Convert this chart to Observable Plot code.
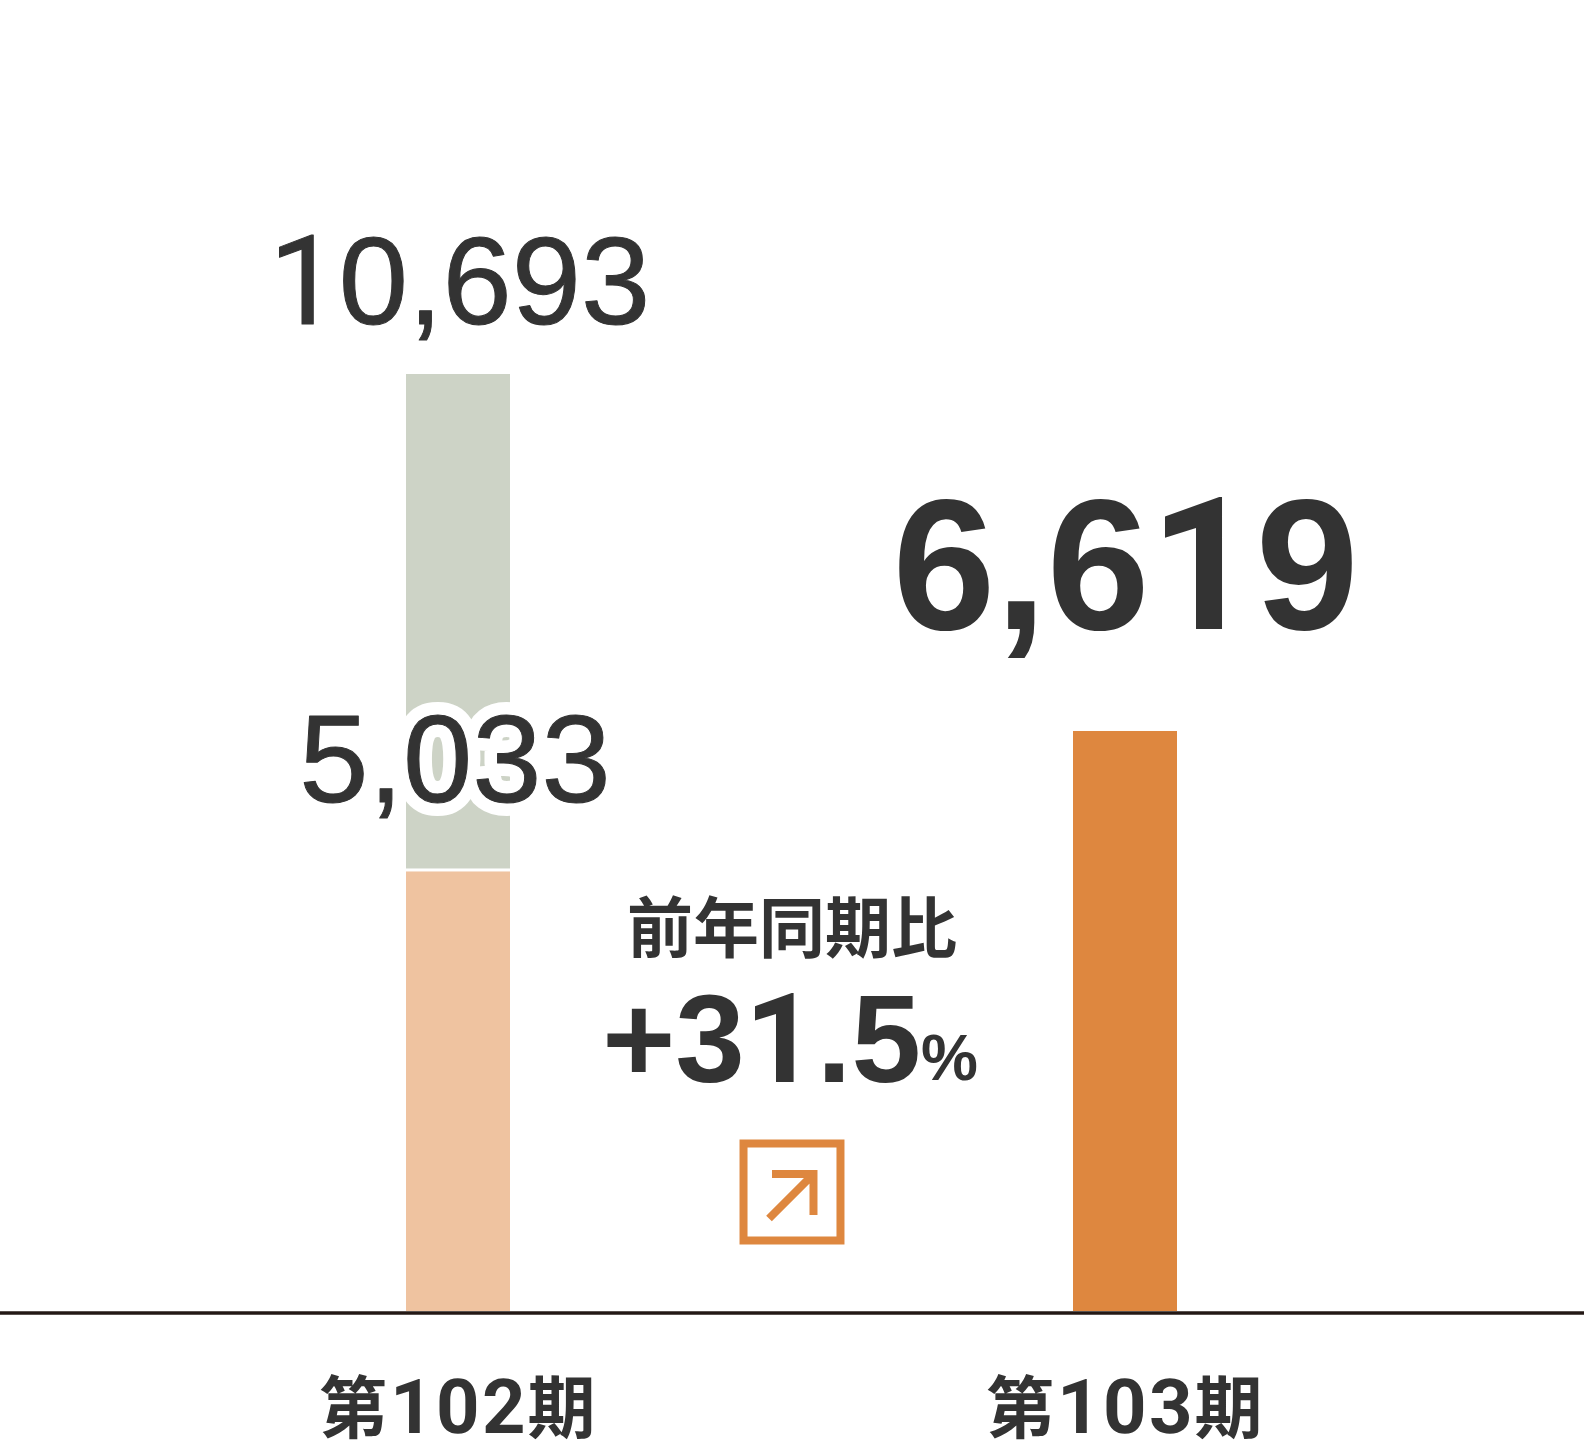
<!DOCTYPE html>
<html lang="ja">
<head>
<meta charset="utf-8">
<script src="https://cdn.jsdelivr.net/npm/d3@7"></script>
<script src="https://cdn.jsdelivr.net/npm/@observablehq/plot@0.6"></script>
<style>
@font-face{font-family:"AxisDigits";src:local("Roboto Medium"),local("Roboto-Medium");font-weight:700;unicode-range:U+30-39;size-adjust:112%}
@font-face{font-family:"PlainOne";src:local("Roboto"),local("Roboto Regular"),local("Roboto-Regular");font-weight:400;unicode-range:U+31}
@font-face{font-family:"PlainOne";src:local("Roboto Bold"),local("Roboto-Bold");font-weight:700;unicode-range:U+31}
html,body{margin:0;padding:0;background:#fff}
svg{display:block}
svg [aria-label="x-axis tick label"]{letter-spacing:2px}
</style>
</head>
<body>
<script>
const periods = ["第102期", "前年同期比", "第103期"];
const axisPeriods = ["第102期", "第103期"];
const lowerSegment = [{period: "第102期", from: 0, to: 5033}];
const upperSegment = [{period: "第102期", from: 5033, to: 10693}];
const currentBar = [{period: "第103期", from: 0, to: 6619}];
const prevTotal = [{period: "第102期", value: 10693}];
const prevPart = [{period: "第102期", value: 5033}];
const curTotal = [{period: "第103期", value: 6619}];
const changeLabel = "前年同期比";
const changeValue = "+31.5";
const changeUnit = "%";

const font = '"PlainOne","Liberation Sans","Noto Sans CJK JP",sans-serif';
const ink = "#333333";
const fmt = d3.format(",");

const arrowBox = {
  draw(c, size) {
    const s = Math.sqrt(size);
    const h = s / 2;
    c.moveTo(-h, -h); c.lineTo(h, -h); c.lineTo(h, h); c.lineTo(-h, h); c.closePath();
    const k = s / 97;
    c.moveTo(-20 * k, -18 * k); c.lineTo(21.5 * k, -18 * k); c.lineTo(21.5 * k, 23 * k);
    c.moveTo(21.5 * k, -18 * k); c.lineTo(-23 * k, 26.5 * k);
  }
};

const chart = Plot.plot({
  width: 1584,
  height: 1446,
  marginLeft: 0, marginRight: 0, marginTop: 0, marginBottom: 135,
  style: {background: "#fff", fontFamily: font},
  x: {type: "band", domain: periods, range: [406, 1177], round: false, paddingInner: 1 - 104 / 333.5, paddingOuter: 0, axis: null},
  y: {domain: [0, 10693], range: [1311, 374], axis: null},
  marks: [
    Plot.barY(lowerSegment, {x: "period", y1: "from", y2: "to", fill: "#efc3a0", insetTop: 1.5}),
    Plot.barY(upperSegment, {x: "period", y1: "from", y2: "to", fill: "#cdd3c6", insetBottom: 1.5}),
    Plot.barY(currentBar, {x: "period", y1: "from", y2: "to", fill: "#de873f"}),
    Plot.ruleY([0], {stroke: "#231815", strokeWidth: 3.5, dy: 1.5}),
    Plot.axisX({
      ticks: axisPeriods, tickSize: 0, tickPadding: 0, label: null,
      fontSize: 68, fontWeight: 700, fontFamily: '"AxisDigits","Noto Sans CJK JP",sans-serif', fill: ink, dy: 73
    }),
    Plot.text(prevTotal, {x: "period", y: "value", text: d => fmt(d.value),
      fontSize: 124.5, fill: ink, stroke: ink, strokeWidth: 1, dx: 1, dy: -90, lineAnchor: "middle"}),
    Plot.text(prevPart, {x: "period", y: "value", text: d => fmt(d.value),
      fontSize: 124.5, fill: "#fff", stroke: "#fff", strokeWidth: 26, dx: -3.5, dy: -108.5, lineAnchor: "middle"}),
    Plot.text(prevPart, {x: "period", y: "value", text: d => fmt(d.value),
      fontSize: 124.5, fill: ink, stroke: ink, strokeWidth: 1, dx: -3.5, dy: -108.5, lineAnchor: "middle"}),
    Plot.text(curTotal, {x: "period", y: "value", text: d => fmt(d.value),
      fontSize: 185, fontWeight: 700, fill: ink, dy: -162, lineAnchor: "middle"}),
    Plot.text([changeLabel], {x: () => periods[1], y: () => 0, text: d => d,
      fontSize: 66, fontWeight: 700, fontFamily: '"Noto Sans CJK JP",sans-serif', fill: ink, dy: -381, lineAnchor: "middle"}),
    Plot.text([changeValue], {x: () => periods[1], y: () => 0, text: d => d,
      fontSize: 125, fontWeight: 700, fill: ink, textAnchor: "end", dx: 129, dy: -269.5, lineAnchor: "middle"}),
    Plot.text([changeUnit], {x: () => periods[1], y: () => 0, text: d => d,
      fontSize: 64, fontWeight: 700, fill: ink, textAnchor: "start", dx: 129, dy: -251.5, lineAnchor: "middle"}),
    Plot.dot([changeLabel], {x: () => periods[1], y: () => 0, symbol: arrowBox, r: 54.7,
      fill: "none", stroke: "#de873f", strokeWidth: 8, strokeLinejoin: "miter", dy: -119.5})
  ]
});
document.body.appendChild(chart);
</script>
</body>
</html>
